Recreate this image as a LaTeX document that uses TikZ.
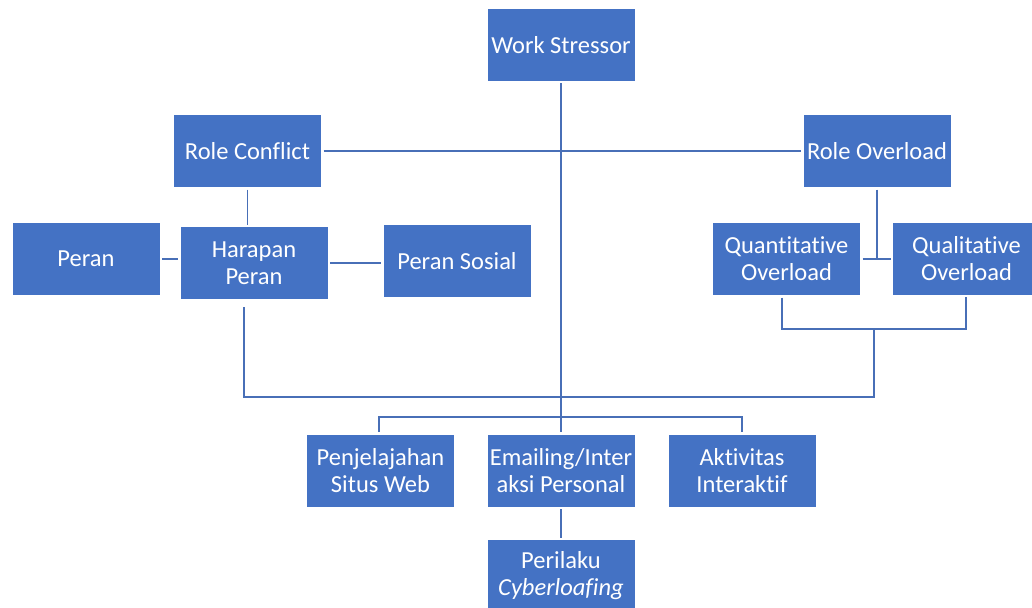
\documentclass[tikz,border=0pt]{standalone}
\usepackage{fontspec}
\setmainfont{Carlito}[Ligatures=NoCommon]
\definecolor{boxblue}{RGB}{68,114,196}
\definecolor{lineblue}{RGB}{72,111,183}
\begin{document}
\begin{tikzpicture}[x=1pt,y=-1pt,
  box/.style={fill=boxblue,text=white,minimum width=147pt,minimum height=72pt,
    inner sep=0pt,outer sep=2.5pt,align=center,font=\fontsize{24.5}{27}\selectfont},
  conn/.style={draw=lineblue,line width=1.6pt}]
\useasboundingbox (0,0) rectangle (1032,607);
\node[box] (ws) at (561,45) {Work Stressor};
\node[box] (rc) at (247.5,151) {Role Conflict};
\node[box] (ro) at (877,151) {Role Overload};
\node[box] (peran) at (86,259) {Peran};
\node[box] (hp) at (254,263) {Harapan\\Peran};
\node[box] (ps) at (457,261) {Peran Sosial};
\node[box] (qn) at (786.5,259) {Quantitative\\Overload};
\node[box] (ql) at (966.5,258.5) {Qualitative\\Overload};
\node[box] (pj) at (380.5,470.5) {Penjelajahan\\Situs Web};
\node[box] (em) at (561,470.5) {Emailing/Inter\\aksi Personal};
\node[box] (ak) at (742,470.5) {Aktivitas\\Interaktif};
\node[box] (pc) at (561,576) {Perilaku\\\itshape Cyberloafing};
\coordinate (hpb) at (244,307);
\coordinate (jl) at (244,397);
\coordinate (jr) at (874,397);
\coordinate (bq) at (874,329);
\coordinate (bl) at (379,417);
\coordinate (br) at (742,417);
\draw[conn] (ws.south) -- (em.north);
\draw[conn] (rc.east) -- (ro.west);
\draw[conn] (rc.south) -- (rc.south |- hp.north);
\draw[conn] (peran.east) -- (peran.east -| hp.west);
\draw[conn] (hp.east) -- (hp.east -| ps.west);
\draw[conn] (hpb) -- (jl) -- (jr) -- (bq);
\draw[conn] (ro.south) -- (877,259);
\draw[conn] (qn.east) -- (qn.east -| ql.west);
\draw[conn] (qn.south -| 782,0) -- (782,329) -- (966,329) -- (ql.south -| 966,0);
\draw[conn] (pj.north -| bl) -- (bl) -- (br) -- (ak.north -| br);
\draw[conn] (em.south) -- (pc.north);
\end{tikzpicture}
\end{document}
